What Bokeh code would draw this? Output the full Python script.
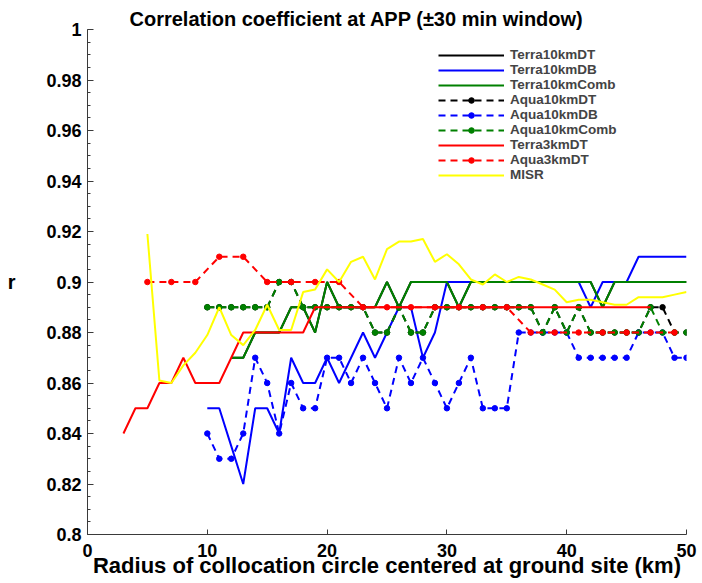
from bokeh.plotting import figure
from bokeh.models import (FixedTicker, CustomJSTickFormatter, Legend,
                          LegendItem, Range1d)
from bokeh.embed import file_html
from bokeh.resources import INLINE

# ---------------- data ----------------
x_ticks = [0, 10, 20, 30, 40, 50]
y_ticks = [0.8, 0.82, 0.84, 0.86, 0.88, 0.9, 0.92, 0.94, 0.96, 0.98, 1.0]
y_minor = [round(0.8 + 0.005 * i, 3) for i in range(41)]

title_text = "Correlation coefficient at APP (\u00b130 min window)"
xlabel_text = "Radius of collocation circle centered at ground site (km)"
ylabel_text = "r"

terra10_dt_x = list(range(12, 51))
terra10_dt = [0.87, 0.87, 0.88, 0.88, 0.88, 0.89, 0.89, 0.88, 0.90, 0.89,
              0.89, 0.89, 0.89, 0.90, 0.89, 0.90, 0.90, 0.90, 0.90, 0.89,
              0.90, 0.90, 0.90, 0.90, 0.90, 0.90, 0.90, 0.90, 0.90, 0.90,
              0.90, 0.89, 0.90, 0.90, 0.90, 0.90, 0.90, 0.90, 0.90]

terra10_db_x = list(range(10, 51))
terra10_db = [0.85, 0.85, 0.835, 0.82, 0.85, 0.85, 0.84, 0.87, 0.86, 0.86,
              0.87, 0.86, 0.87, 0.88, 0.87, 0.88, 0.89, 0.89, 0.87, 0.88,
              0.90, 0.90, 0.90, 0.90, 0.90, 0.90, 0.90, 0.90, 0.90, 0.90,
              0.90, 0.90, 0.89, 0.90, 0.90, 0.90, 0.91, 0.91, 0.91, 0.91, 0.91]

terra10_comb_x = list(range(12, 51))
terra10_comb = [0.87, 0.87, 0.88, 0.88, 0.88, 0.89, 0.89, 0.88, 0.90, 0.89,
                0.89, 0.89, 0.89, 0.90, 0.89, 0.90, 0.90, 0.90, 0.90, 0.89,
                0.90, 0.90, 0.90, 0.90, 0.90, 0.90, 0.90, 0.90, 0.90, 0.90,
                0.90, 0.89, 0.90, 0.90, 0.90, 0.90, 0.90, 0.90, 0.90]

aqua10_dt_x = list(range(10, 51))
aqua10_dt = [0.89, 0.89, 0.89, 0.89, 0.89, 0.89, 0.90, 0.90, 0.89, 0.89,
             0.89, 0.89, 0.89, 0.89, 0.88, 0.88, 0.89, 0.88, 0.88, 0.89,
             0.89, 0.89, 0.89, 0.89, 0.89, 0.89, 0.89, 0.89, 0.88, 0.89,
             0.88, 0.89, 0.88, 0.88, 0.88, 0.88, 0.88, 0.89, 0.89, 0.88, 0.88]

aqua10_db_x = list(range(10, 51))
aqua10_db = [0.84, 0.83, 0.83, 0.84, 0.87, 0.86, 0.84, 0.86, 0.85, 0.85,
             0.87, 0.87, 0.86, 0.87, 0.86, 0.85, 0.87, 0.86, 0.87, 0.86,
             0.85, 0.86, 0.87, 0.85, 0.85, 0.85, 0.88, 0.88, 0.88, 0.88,
             0.88, 0.87, 0.87, 0.87, 0.87, 0.87, 0.88, 0.88, 0.88, 0.87, 0.87]

aqua10_comb_x = list(range(10, 51))
aqua10_comb = [0.89, 0.89, 0.89, 0.89, 0.89, 0.89, 0.90, 0.90, 0.89, 0.89,
               0.89, 0.89, 0.89, 0.89, 0.88, 0.88, 0.89, 0.88, 0.88, 0.89,
               0.89, 0.89, 0.89, 0.89, 0.89, 0.89, 0.89, 0.89, 0.88, 0.89,
               0.88, 0.89, 0.88, 0.88, 0.88, 0.88, 0.88, 0.89, 0.88, 0.88, 0.88]

terra3_dt_x = list(range(3, 48))
terra3_dt = [0.84, 0.85, 0.85, 0.86, 0.86, 0.87, 0.86, 0.86, 0.86, 0.87,
             0.88, 0.88, 0.88, 0.88, 0.88, 0.88,
             0.89, 0.89, 0.89, 0.89, 0.89, 0.89, 0.89, 0.89, 0.89, 0.89,
             0.89, 0.89, 0.89, 0.89, 0.89, 0.89, 0.89, 0.89, 0.89, 0.89,
             0.89, 0.89, 0.89, 0.89, 0.89, 0.89, 0.89, 0.89, 0.89]

aqua3_dt_x = list(range(5, 50, 2))
aqua3_dt = [0.90, 0.90, 0.90, 0.91, 0.91, 0.90, 0.90, 0.90, 0.90,
            0.89, 0.89, 0.89, 0.89, 0.89, 0.89, 0.89,
            0.88, 0.88, 0.88, 0.88, 0.88, 0.88, 0.88]

misr_x = list(range(5, 51))
misr = [0.919, 0.861, 0.860, 0.867, 0.872, 0.879, 0.890, 0.879, 0.875, 0.881,
        0.891, 0.881, 0.881, 0.896, 0.897, 0.905, 0.900, 0.908, 0.910, 0.901,
        0.913, 0.916, 0.916, 0.917, 0.908, 0.911, 0.907, 0.901, 0.899, 0.903,
        0.900, 0.902, 0.901, 0.899, 0.897, 0.892, 0.893, 0.893, 0.892, 0.891,
        0.891, 0.894, 0.894, 0.894, 0.895, 0.896]

# ---------------- figure ----------------
FONT = "Liberation Sans"
AX = "#3a3a3a"

p = figure(width=702, height=583, x_range=Range1d(0, 50), y_range=Range1d(0.8, 1.0),
           output_backend="svg", toolbar_location=None,
           min_border_left=87, min_border_right=16, min_border_top=29,
           min_border_bottom=49)
p.grid.visible = False
p.outline_line_color = None
p.background_fill_color = "white"
p.border_fill_color = "white"

p.title.text = title_text
p.title.text_font = FONT
p.title.text_font_style = "bold"
p.title.text_font_size = "20px"
p.title.text_color = "black"
p.title.align = "left"
p.title.offset = 42
p.title.standoff = 0

for ax in (p.xaxis[0], p.yaxis[0]):
    ax.axis_line_color = AX
    ax.major_tick_line_color = AX
    ax.minor_tick_line_color = AX
    ax.major_tick_out = 0
    ax.minor_tick_out = 0
    ax.major_label_text_font = FONT
    ax.major_label_text_font_style = "bold"
    ax.major_label_text_font_size = "18px"
    ax.major_label_text_color = "black"
    ax.axis_label_text_font = FONT
    ax.axis_label_text_font_style = "bold"
    ax.axis_label_text_color = "black"

p.xaxis.ticker = FixedTicker(ticks=x_ticks)
p.xaxis.major_tick_in = 5
p.xaxis.minor_tick_in = 0
p.xaxis.major_label_standoff = 9
p.xaxis.axis_label = xlabel_text
p.xaxis.axis_label_text_font_size = "22px"
p.xaxis.axis_label_standoff = -7

p.yaxis.ticker = FixedTicker(ticks=y_ticks, minor_ticks=y_minor)
p.yaxis.major_tick_in = 6
p.yaxis.minor_tick_in = 3
p.yaxis.major_label_standoff = 6
p.yaxis.formatter = CustomJSTickFormatter(
    code="return tick.toFixed(2).replace(/0+$/, '').replace(/\\.$/, '');")
p.yaxis.axis_label = ylabel_text
p.yaxis.axis_label_text_font_size = "20px"
p.yaxis.axis_label_orientation = "horizontal"
p.yaxis.axis_label_standoff = 28

GREEN = "#008000"
DASH = "7 5"
LW = 2
MS = 5.5

r_t10dt = p.line(terra10_dt_x, terra10_dt, color="black", line_width=LW)
r_t10db = p.line(terra10_db_x, terra10_db, color="#0000ff", line_width=LW)
r_t10c = p.line(terra10_comb_x, terra10_comb, color=GREEN, line_width=LW)

r_a10dt = p.line(aqua10_dt_x, aqua10_dt, color="black", line_width=LW, line_dash=DASH)
m_a10dt = p.scatter(aqua10_dt_x, aqua10_dt, color="black", size=MS)
r_a10db = p.line(aqua10_db_x, aqua10_db, color="#0000ff", line_width=LW, line_dash=DASH)
m_a10db = p.scatter(aqua10_db_x, aqua10_db, color="#0000ff", size=MS)
r_a10c = p.line(aqua10_comb_x, aqua10_comb, color=GREEN, line_width=LW, line_dash=DASH)
m_a10c = p.scatter(aqua10_comb_x, aqua10_comb, color=GREEN, size=MS)

r_t3dt = p.line(terra3_dt_x, terra3_dt, color="#ff0000", line_width=LW)
r_a3dt = p.line(aqua3_dt_x, aqua3_dt, color="#ff0000", line_width=LW, line_dash=DASH)
m_a3dt = p.scatter(aqua3_dt_x, aqua3_dt, color="#ff0000", size=MS)

r_misr = p.line(misr_x, misr, color="#ffff00", line_width=LW)

legend = Legend(items=[
    LegendItem(label="Terra10kmDT", renderers=[r_t10dt]),
    LegendItem(label="Terra10kmDB", renderers=[r_t10db]),
    LegendItem(label="Terra10kmComb", renderers=[r_t10c]),
    LegendItem(label="Aqua10kmDT", renderers=[r_a10dt, m_a10dt]),
    LegendItem(label="Aqua10kmDB", renderers=[r_a10db, m_a10db]),
    LegendItem(label="Aqua10kmComb", renderers=[r_a10c, m_a10c]),
    LegendItem(label="Terra3kmDT", renderers=[r_t3dt]),
    LegendItem(label="Aqua3kmDT", renderers=[r_a3dt, m_a3dt]),
    LegendItem(label="MISR", renderers=[r_misr]),
], location=(351, 352))
legend.label_text_font = FONT
legend.label_text_font_style = "bold"
legend.label_text_font_size = "13.5px"
legend.glyph_width = 66
legend.glyph_height = 14
legend.label_height = 14
legend.label_standoff = 6
legend.spacing = 0
legend.padding = 0
legend.margin = 0
legend.border_line_color = None
legend.background_fill_alpha = 0
p.add_layout(legend, "center")

open("out.html", "w").write(file_html(p, INLINE))
